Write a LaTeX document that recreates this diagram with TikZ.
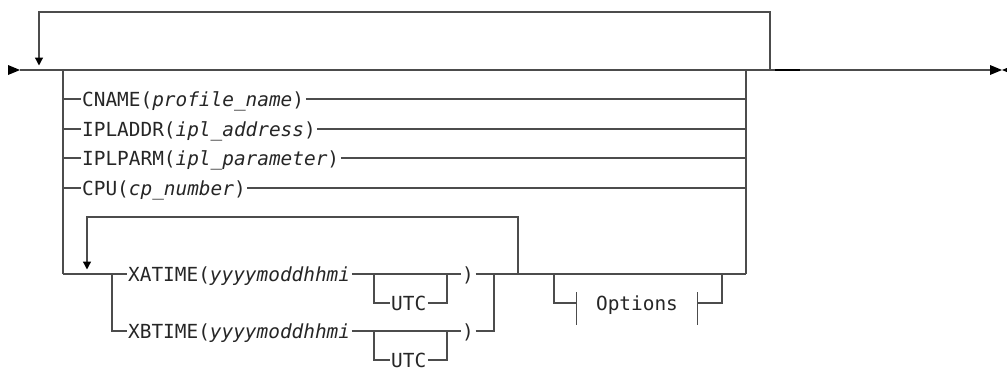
\documentclass[tikz,border=0pt]{standalone}
\usepackage{fontspec}
\setmonofont{DejaVu Sans Mono}
\usetikzlibrary{arrows.meta,positioning}

\begin{document}
\begin{tikzpicture}[
  x=1pt, y=-1pt,
  font=\ttfamily\fontsize{19.4}{22}\selectfont,
  every node/.style={text=black!85},
  rail/.style={draw=black!70, line width=1.3pt},
  back/.style={rail, -{Triangle[length=8pt,width=8pt,black]}, shorten >=4.5pt},
  kw/.style={anchor=west, inner xsep=1.5pt, inner ysep=0pt, text height=14.5pt, text depth=0.5pt},
  frag/.style={kw, anchor=center, inner xsep=0pt, minimum width=120pt},
  tick/.style={rail},
  railtip/.style={fill=black},
]
\useasboundingbox (0,0) rectangle (1007,367);

% main line and its repeat loop
\coordinate (in)   at (20,70);
\coordinate (lpL)  at (39,70);
\coordinate (lpT)  at (39,12);
\coordinate (jL)   at (63,70);
\coordinate (jR)   at (746,70);
\coordinate (lpR)  at (770,70);
\coordinate (out)  at (990,70);
\fill[railtip] (8,65) -- (in) -- (8,75) -- cycle;
\draw[rail] (in) -- (out);
\draw[back] (lpR) |- (lpT) -- (lpL);
\coordinate (dashA) at (775,70);
\coordinate (dashB) at (800,70);
\draw[line width=2pt, black] (dashA) -- (dashB);
\fill[railtip] (990,65) -- (1002,70) -- (990,75) -- cycle;
\fill[railtip] (1014,65) -- (1002,70) -- (1014,75) -- cycle;

% choices, one per row
\coordinate (r5L) at (63,274);
\coordinate (r5R) at (746,274);
\draw[rail] (jL) -- (r5L);
\draw[rail] (jR) -- (r5R);

\node[kw] (cname) at (80.5,99)  {CNAME(\textit{profile\_name})};
\node[kw] (iaddr) at (80.5,129) {IPLADDR(\textit{ipl\_address})};
\node[kw] (iparm) at (80.5,158) {IPLPARM(\textit{ipl\_parameter})};
\node[kw] (cpu)   at (80.5,188) {CPU(\textit{cp\_number})};
\foreach \n in {cname,iaddr,iparm,cpu}{
  \draw[rail] (\n.west -| jL) -- (\n.west);
  \draw[rail] (\n.east) -- (\n.east -| jR);
}

% time stamps, repeatable
\coordinate (ilpL) at (87,274);
\coordinate (ilpT) at (87,217);
\coordinate (ilpR) at (518,274);
\coordinate (ibL)  at (112,274);
\coordinate (ibR)  at (494,274);
\node[kw] (xa) at (126.5,274) {XATIME(\textit{yyyymoddhhmi}};
\node[kw] (xb) at (126.5,331) {XBTIME(\textit{yyyymoddhhmi}};
\draw[rail] (r5L) -- (xa.west);
\draw[rail] (ibL) |- (xb.west);
\draw[back] (ilpR) |- (ilpT) -- (ilpL);

\coordinate (uL) at (374,274);
\coordinate (uR) at (447,274);
\node[kw] (utcA) at (389.5,303) {UTC};
\node[kw] (utcB) at (389.5,360) {UTC};
\node[kw] (clA) at (460.5,274) {)};
\node[kw] (clB) at (460.5,331) {)};
\draw[rail] (xa.east) -- (clA.west);
\draw[rail] (xb.east) -- (clB.west);
\draw[rail] (uL) |- (utcA.west);
\draw[rail] (utcA.east) -| (uR);
\draw[rail] (uL |- xb.east) |- (utcB.west);
\draw[rail] (utcB.east) -| (uR |- xb.east);
\draw[rail] (clA.east) -- (r5R);
\draw[rail] (clB.east) -| (ibR);

% optional fragment
\coordinate (oL) at (554,274);
\coordinate (oR) at (722,274);
\node[frag] (opt) at (637,303) {Options};
\draw[rail] (oL) |- (opt.west);
\draw[rail] (opt.east) -| (oR);
\draw[tick] (opt.west) ++(0,-11) -- ++(0,33);
\draw[tick] (opt.east) ++(0,-11) -- ++(0,33);

\end{tikzpicture}
\end{document}
